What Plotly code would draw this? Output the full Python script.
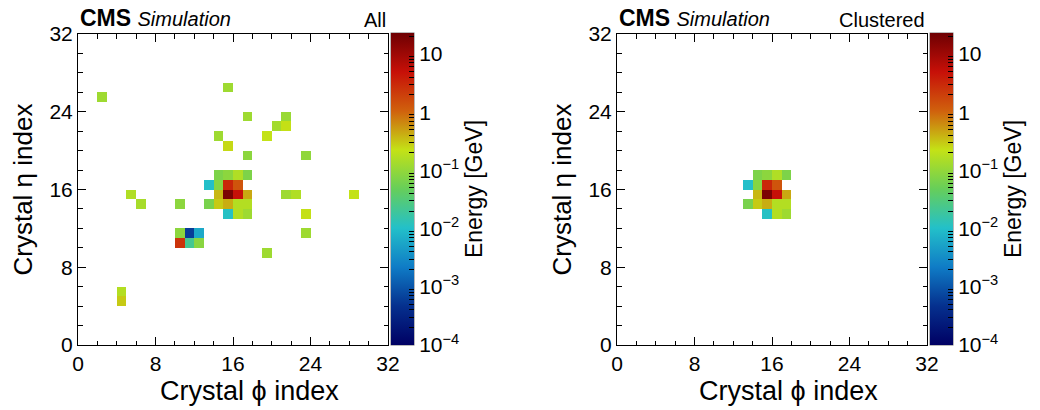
import numpy as np
import plotly.graph_objects as go

# ---------------- data ----------------
# "All" crystals: phi index, eta index, energy [GeV]
all_phi = [2, 15, 17, 21, 20, 21, 14, 19, 15, 17, 23,
           14, 15, 16, 17,
           13, 14, 15, 16,
           5, 14, 15, 16, 17, 21, 22, 28,
           6, 10, 13, 14, 15, 16, 17,
           15, 16, 17, 23,
           10, 11, 12, 23,
           10, 11, 12,
           19, 4, 4]
all_eta = [25, 26, 23, 23, 22, 22, 21, 21, 20, 19, 19,
           17, 17, 17, 17,
           16, 16, 16, 16,
           15, 15, 15, 15, 15, 15, 15, 15,
           14, 14, 14, 14, 14, 14, 14,
           13, 13, 13, 13,
           11, 11, 11, 11,
           10, 10, 10,
           9, 5, 4]
all_energy = [0.12, 0.12, 0.12, 0.11, 0.13, 0.23, 0.12, 0.22, 0.25, 0.09, 0.095,
              0.07, 0.09, 0.16, 0.07,
              0.010, 0.08, 3.2, 1.35,
              0.16, 0.37, 18.0, 5.0, 0.45, 0.12, 0.16, 0.22,
              0.14, 0.09, 0.065, 0.30, 0.42, 0.17, 0.17,
              0.011, 0.17, 0.12, 0.23,
              0.09, 0.0006, 0.006, 0.12,
              2.5, 0.022, 0.085,
              0.12, 0.17, 0.30]

# "Clustered" crystals
cl_phi = [14, 15, 16, 17,
          13, 14, 15, 16,
          14, 15, 16, 17,
          13, 14, 15, 16, 17,
          15, 16, 17]
cl_eta = [17, 17, 17, 17,
          16, 16, 16, 16,
          15, 15, 15, 15,
          14, 14, 14, 14, 14,
          13, 13, 13]
cl_energy = [0.07, 0.09, 0.16, 0.07,
             0.010, 0.08, 3.2, 1.35,
             0.37, 18.0, 5.0, 0.45,
             0.065, 0.30, 0.42, 0.17, 0.17,
             0.011, 0.17, 0.12]

n_bins = 32
axis_ticks = [0, 8, 16, 24, 32]
cbar_major = [-4, -3, -2, -1, 0, 1]
cbar_major_text = ["10<sup>\u22124</sup>", "10<sup>\u22123</sup>", "10<sup>\u22122</sup>",
                   "10<sup>\u22121</sup>", "1", "10"]
z_min_log, z_max_log = -4.0, 1.36

# ROOT kRainBow palette
rb_stops = [0.0, 0.125, 0.25, 0.375, 0.5, 0.625, 0.75, 0.875, 1.0]
rb_r = [0, 5, 15, 35, 102, 196, 208, 199, 110]
rb_g = [0, 48, 124, 192, 206, 226, 97, 16, 0]
rb_b = [99, 142, 198, 201, 90, 22, 13, 8, 2]
colorscale = [[s, f"rgb({r},{g},{b})"] for s, r, g, b in zip(rb_stops, rb_r, rb_g, rb_b)]

FONT = "Liberation Sans, Arial, sans-serif"
W, H = 1040, 410


def grid(phi, eta, e):
    z = np.full((n_bins, n_bins), np.nan)
    for p, h, v in zip(phi, eta, e):
        z[h, p] = np.log10(v)
    return z


minor_vals = []
for k in range(-4, 2):
    for m in range(2, 10):
        v = k + np.log10(m)
        if v <= z_max_log:
            minor_vals.append(v)

fig = go.Figure()

panels = [
    dict(phi=all_phi, eta=all_eta, e=all_energy, xa="x", ya="y",
         dom=[78 / W, 388 / W], cbx=391 / W, label="All"),
    dict(phi=cl_phi, eta=cl_eta, e=cl_energy, xa="x2", ya="y2",
         dom=[617 / W, 927 / W], cbx=930 / W, label="Clustered"),
]

y_dom = [(H - 345) / H, (H - 34) / H]
cb_len = (345 - 33) / H
cb_y = (H - (345 + 33) / 2) / H

for i, p in enumerate(panels):
    z = grid(p["phi"], p["eta"], p["e"])
    fig.add_trace(go.Heatmap(
        z=z, x=np.arange(n_bins + 1), y=np.arange(n_bins + 1),
        xaxis=p["xa"], yaxis=p["ya"],
        colorscale=colorscale, zmin=z_min_log, zmax=z_max_log,
        hoverongaps=False,
        colorbar=dict(
            x=p["cbx"], xanchor="left", y=cb_y, yanchor="middle",
            len=cb_len, lenmode="fraction", thickness=23,
            xpad=0, ypad=0, outlinewidth=1, outlinecolor="#777",
            tickmode="array", tickvals=cbar_major, ticktext=cbar_major_text,
            ticks="inside", ticklen=10, tickcolor="black", tickwidth=1,
            tickfont=dict(family=FONT, size=21, color="black"),
            title=dict(text="Energy [GeV]", side="right",
                       font=dict(family=FONT, size=23, color="black")),
        ),
    ))
    # minor log ticks on the colour bar
    fig.add_trace(go.Scatter(
        x=[None], y=[None], xaxis=p["xa"], yaxis=p["ya"], mode="markers",
        showlegend=False, hoverinfo="skip",
        marker=dict(color=[0], cmin=z_min_log, cmax=z_max_log,
                    colorscale=colorscale, showscale=True,
                    colorbar=dict(
                        x=p["cbx"], xanchor="left", y=cb_y, yanchor="middle",
                        len=cb_len, lenmode="fraction", thickness=23,
                        xpad=0, ypad=0, outlinewidth=0,
                        tickmode="array", tickvals=minor_vals,
                        ticks="inside", ticklen=5, tickcolor="black", tickwidth=1,
                        showticklabels=False,
                    )),
    ))

    ax_common = dict(range=[0, n_bins], showgrid=False, zeroline=False,
                     showline=True, linecolor="black", linewidth=1, mirror="ticks",
                     ticks="inside", ticklen=8, tickwidth=1, tickcolor="black",
                     tickmode="array", tickvals=axis_ticks, automargin=False,
                     tickfont=dict(family=FONT, size=21, color="black"),
                     minor=dict(dtick=2, ticks="inside", ticklen=4.5,
                                tickcolor="black", tickwidth=1, showgrid=False),
                     fixedrange=True)
    xk = "xaxis" if i == 0 else "xaxis2"
    yk = "yaxis" if i == 0 else "yaxis2"
    fig.update_layout(**{
        xk: dict(ax_common, domain=p["dom"], anchor=p["ya"]),
        yk: dict(ax_common, domain=y_dom, anchor=p["xa"]),
    })

    x0, x1 = p["dom"]
    fig.add_annotation(xref="paper", yref="paper", x=x0, y=(H - 33) / H,
                       xanchor="left", yanchor="bottom", showarrow=False,
                       text="<b>CMS</b> <span style='font-size:20px'><i>Simulation</i></span>",
                       font=dict(family=FONT, size=23, color="black"))
    fig.add_annotation(xref="paper", yref="paper", x=x1, y=(H - 33) / H,
                       xanchor="right", yanchor="bottom", showarrow=False,
                       text=p["label"], font=dict(family=FONT, size=20, color="black"))
    fig.add_annotation(xref="paper", yref="paper", x=((x0 + x1) / 2 * W + 16) / W,
                       y=(H - 391) / H,
                       xanchor="center", yanchor="middle", showarrow=False,
                       text="Crystal \u03d5 index", font=dict(family=FONT, size=27, color="black"))
    fig.add_annotation(xref="paper", yref="paper", x=(x0 * W - 56) / W,
                       y=(y_dom[0] + y_dom[1]) / 2,
                       xanchor="center", yanchor="middle", showarrow=False, textangle=-90,
                       text="Crystal \u03b7 index", font=dict(family=FONT, size=26, color="black"))

fig.update_layout(template="none", width=W, height=H,
                  margin=dict(l=0, r=0, t=0, b=0, autoexpand=False),
                  paper_bgcolor="white", plot_bgcolor="white", showlegend=False)

fig.write_html("out.html", config={"displayModeBar": False},
               post_script="document.body.style.margin='0';")
